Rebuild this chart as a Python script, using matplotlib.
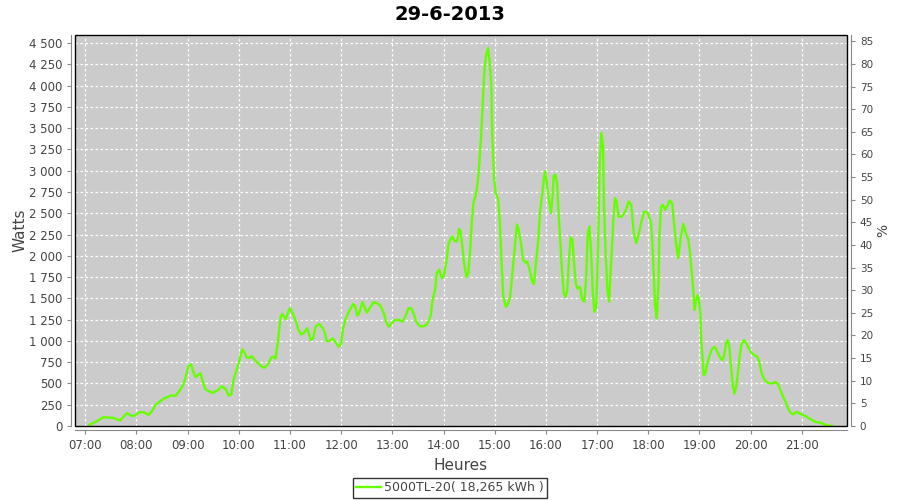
#!/usr/bin/env python3
"""Production curve of the inverter for 29-6-2013 (Watts vs hour of day)."""

import matplotlib

matplotlib.use("Agg")
import matplotlib.pyplot as plt
from matplotlib.patches import Rectangle
from matplotlib.ticker import FuncFormatter, MultipleLocator

TITLE = "29-6-2013"
SERIES_LABEL = "5000TL-20( 18,265 kWh )"

TIMES = [
    "07:05", "07:13", "07:21", "07:33", "07:39", "07:41", "07:45", "07:49", "07:54", "07:58",
    "08:04", "08:08", "08:14", "08:18", "08:22", "08:26", "08:32", "08:40", "08:46", "08:51",
    "08:55", "08:59", "09:01", "09:04", "09:06", "09:09", "09:12", "09:15", "09:18", "09:21",
    "09:25", "09:29", "09:35", "09:40", "09:45", "09:48", "09:51", "09:54", "09:57", "10:00",
    "10:02", "10:04", "10:07", "10:09", "10:12", "10:15", "10:19", "10:22", "10:26", "10:30",
    "10:34", "10:38", "10:41", "10:43", "10:46", "10:49", "10:51", "10:55", "10:58", "11:00",
    "11:04", "11:07", "11:10", "11:13", "11:16", "11:20", "11:22", "11:24", "11:27", "11:30",
    "11:34", "11:38", "11:41", "11:43", "11:47", "11:50", "11:53", "11:57", "12:00", "12:02",
    "12:05", "12:09", "12:14", "12:16", "12:19", "12:21", "12:25", "12:27", "12:30", "12:34",
    "12:38", "12:42", "12:46", "12:50", "12:53", "12:56", "12:59", "13:03", "13:08", "13:12",
    "13:15", "13:19", "13:22", "13:25", "13:28", "13:32", "13:36", "13:40", "13:43", "13:45",
    "13:47", "13:50", "13:52", "13:55", "13:58", "14:00", "14:03", "14:06", "14:10", "14:13",
    "14:16", "14:18", "14:20", "14:22", "14:24", "14:27", "14:29", "14:31", "14:33", "14:35",
    "14:38", "14:40", "14:42", "14:44", "14:46", "14:48", "14:50", "14:52", "14:54", "14:56",
    "14:57", "14:59", "15:01", "15:04", "15:06", "15:08", "15:10", "15:13", "15:15", "15:18",
    "15:21", "15:24", "15:26", "15:28", "15:31", "15:33", "15:36", "15:38", "15:41", "15:44",
    "15:46", "15:48", "15:51", "15:53", "15:56", "15:58", "15:59", "16:01", "16:04", "16:06",
    "16:08", "16:09", "16:11", "16:13", "16:15", "16:17", "16:19", "16:21", "16:23", "16:25",
    "16:27", "16:29", "16:31", "16:33", "16:35", "16:37", "16:40", "16:42", "16:45", "16:47",
    "16:49", "16:51", "16:53", "16:55", "16:57", "16:59", "17:01", "17:03", "17:05", "17:07",
    "17:08", "17:10", "17:12", "17:14", "17:16", "17:19", "17:21", "17:23", "17:25", "17:29",
    "17:33", "17:37", "17:40", "17:43", "17:46", "17:49", "17:52", "17:55", "17:59", "18:03",
    "18:05", "18:06", "18:08", "18:10", "18:12", "18:13", "18:15", "18:17", "18:20", "18:23",
    "18:25", "18:28", "18:30", "18:33", "18:35", "18:38", "18:41", "18:44", "18:47", "18:49",
    "18:51", "18:53", "18:54", "18:56", "18:58", "18:59", "19:01", "19:02", "19:04", "19:05",
    "19:07", "19:09", "19:12", "19:15", "19:18", "19:20", "19:24", "19:27", "19:29", "19:31",
    "19:33", "19:35", "19:37", "19:39", "19:41", "19:43", "19:45", "19:47", "19:49", "19:52",
    "19:54", "19:57", "20:00", "20:04", "20:08", "20:10", "20:13", "20:16", "20:20", "20:25",
    "20:29", "20:32", "20:35", "20:38", "20:41", "20:43", "20:47", "20:50", "20:54", "20:58",
    "21:02", "21:06", "21:11", "21:16", "21:22", "21:26", "21:30", "21:36",
]

WATTS = [
    16, 52, 103, 95, 71, 67, 111, 151, 119, 123,
    163, 163, 131, 171, 242, 278, 321, 357, 357, 421,
    488, 627, 706, 726, 659, 575, 599, 619, 508, 429,
    409, 389, 417, 468, 429, 357, 369, 548, 647, 746,
    825, 900, 860, 805, 801, 821, 774, 742, 703, 683,
    722, 805, 813, 793, 1010, 1285, 1317, 1254, 1344, 1384,
    1305, 1226, 1128, 1077, 1089, 1148, 1096, 1010, 1030, 1167,
    1199, 1159, 1089, 998, 1002, 1030, 990, 931, 970, 1136,
    1254, 1344, 1435, 1411, 1297, 1325, 1455, 1404, 1333, 1396,
    1455, 1443, 1411, 1325, 1215, 1167, 1207, 1246, 1246, 1226,
    1285, 1384, 1384, 1317, 1226, 1175, 1170, 1190, 1246, 1303,
    1480, 1599, 1796, 1836, 1737, 1756, 1914, 2151, 2230, 2171,
    2171, 2317, 2289, 2112, 1914, 1748, 1796, 2033, 2388, 2625,
    2724, 2862, 3099, 3414, 3809, 4204, 4362, 4441, 4283, 4007,
    3414, 2941, 2743, 2664, 2388, 1914, 1519, 1401, 1421, 1519,
    1835, 2151, 2368, 2309, 2131, 1959, 1920, 1931, 1833, 1695,
    1667, 1892, 2187, 2502, 2758, 2935, 2994, 2856, 2620, 2502,
    2738, 2935, 2955, 2856, 2463, 2148, 1793, 1557, 1518, 1596,
    1951, 2219, 2187, 1912, 1675, 1616, 1636, 1500, 1459, 1714,
    2266, 2345, 2030, 1557, 1341, 1400, 2069, 3089, 3442, 3285,
    2619, 2031, 1599, 1462, 1834, 2422, 2678, 2638, 2461, 2461,
    2520, 2638, 2599, 2266, 2148, 2266, 2403, 2520, 2508, 2403,
    2108, 1873, 1403, 1266, 1717, 2226, 2579, 2599, 2540, 2599,
    2650, 2619, 2403, 2108, 1972, 2207, 2375, 2266, 2187, 2031,
    1795, 1560, 1362, 1480, 1539, 1500, 1323, 1009, 734, 597,
    616, 734, 832, 911, 931, 891, 805, 773, 832, 970,
    1009, 931, 695, 479, 381, 459, 616, 813, 950, 1009,
    990, 931, 872, 832, 813, 754, 616, 546, 507, 499,
    518, 491, 420, 342, 283, 224, 153, 137, 165, 145,
    126, 106, 75, 47, 39, 20, 8, 0,
]

HOUR_TICKS = list(range(7, 22))
WATT_MAX = 4595
PCT_MAX = 86.4

GREY_TEXT = "#444444"
PLOT_BG = "#cbcbcb"
LINE_GREEN = "#66ff00"


def to_hours(hhmm: str) -> float:
    h, m = hhmm.split(":")
    return int(h) + int(m) / 60.0


def main() -> None:
    plt.rcParams["font.family"] = ["DejaVu Sans"]
    hours = [to_hours(t) for t in TIMES]

    fig = plt.figure(figsize=(9, 5), dpi=100)
    ax = fig.add_axes([0.0837, 0.148, 0.857, 0.782])
    ax.set_facecolor(PLOT_BG)

    ax.plot(hours, WATTS, color=LINE_GREEN, linewidth=1.7, label=SERIES_LABEL,
            solid_joinstyle="round", zorder=3)

    ax.set_xlim(6.805, 21.875)
    ax.set_ylim(0, WATT_MAX)
    ax.set_xticks(HOUR_TICKS)
    ax.xaxis.set_major_formatter(FuncFormatter(lambda v, _: f"{int(round(v)):02d}:00"))
    ax.yaxis.set_major_locator(MultipleLocator(250))
    ax.yaxis.set_major_formatter(
        FuncFormatter(lambda v, _: f"{int(v):,}".replace(",", " "))
    )
    ax.grid(True, color="white", linestyle=(0, (2, 2)), linewidth=0.9, zorder=1)

    for side in ["top", "right", "left", "bottom"]:
        ax.spines[side].set_visible(False)
    # black plot outline, grey axis lines a few pixels outside
    ax.add_patch(Rectangle((0, 0), 1, 1, transform=ax.transAxes, fill=False,
                           edgecolor="black", linewidth=1.0, zorder=4, clip_on=False))
    for side in ["left", "bottom"]:
        ax.spines[side].set_visible(True)
        ax.spines[side].set_position(("outward", 3))
        ax.spines[side].set_color("#888888")
    ax.tick_params(axis="both", colors="#888888", labelcolor=GREY_TEXT,
                   labelsize=8.5, length=3, width=0.8)

    ax.set_xlabel("Heures", fontsize=11, color=GREY_TEXT, labelpad=4)
    ax.set_ylabel("Watts", fontsize=11, color=GREY_TEXT, labelpad=1)
    fig.suptitle(TITLE, x=0.5, y=0.99, fontsize=14, fontweight="bold", color="black")

    ax2 = ax.twinx()
    ax2.set_ylim(0, PCT_MAX)
    ax2.yaxis.set_major_locator(MultipleLocator(5))
    for side in ["top", "left", "bottom"]:
        ax2.spines[side].set_visible(False)
    ax2.spines["right"].set_position(("outward", 3))
    ax2.spines["right"].set_color("#888888")
    ax2.tick_params(axis="y", colors="#888888", labelcolor=GREY_TEXT,
                    labelsize=7.5, length=3, width=0.8)
    ax2.set_ylabel("%", fontsize=10, color=GREY_TEXT, labelpad=2)

    leg = fig.legend(loc="center", bbox_to_anchor=(0.5, 0.024), frameon=True,
                     fancybox=False, edgecolor="black", fontsize=9,
                     handlelength=2.0, handletextpad=0.3, borderpad=0.25,
                     labelcolor=GREY_TEXT)
    leg.get_frame().set_linewidth(1.0)

    fig.savefig("out.png", dpi=100)
    plt.close(fig)


if __name__ == "__main__":
    main()
